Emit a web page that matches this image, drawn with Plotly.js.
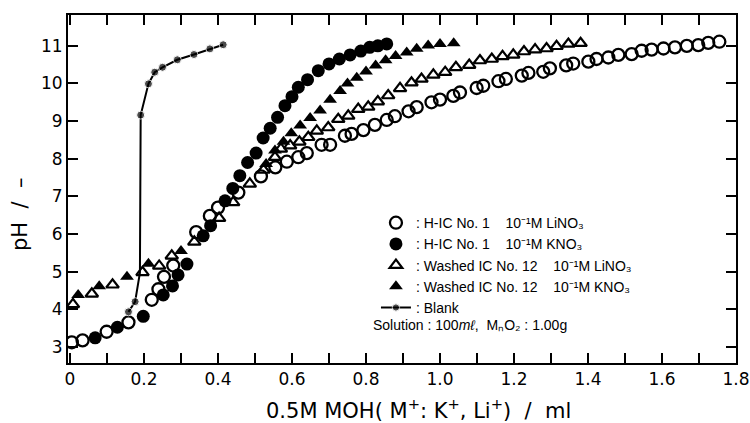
<!DOCTYPE html>
<html><head><meta charset="utf-8">
<script src="https://cdn.plot.ly/plotly-3.0.1.min.js"></script>
<style>html,body{margin:0;padding:0;background:#fff}</style>
</head><body><div id="chart" style="width:750px;height:423px"></div>
<script>
// H-IC No.1, 0.1M LiNO3 (open circles)
const hicLiX = [0.005,0.034,0.099,0.158,0.221,0.239,0.254,0.279,0.341,0.378,0.400,0.455,0.516,0.555,0.586,0.617,0.640,0.680,0.703,0.743,0.761,0.793,0.824,0.856,0.878,0.915,0.937,0.977,1.000,1.036,1.054,1.099,1.117,1.158,1.178,1.221,1.239,1.279,1.297,1.341,1.360,1.401,1.423,1.455,1.482,1.518,1.545,1.572,1.604,1.635,1.667,1.698,1.725,1.755];
const hicLiY = [3.12,3.17,3.40,3.65,4.25,4.53,4.86,5.16,6.05,6.48,6.70,7.10,7.53,7.77,7.92,8.04,8.15,8.37,8.37,8.61,8.66,8.76,8.90,9.03,9.13,9.26,9.37,9.50,9.57,9.67,9.76,9.88,9.94,10.06,10.12,10.21,10.28,10.31,10.40,10.48,10.53,10.58,10.65,10.69,10.76,10.78,10.87,10.90,10.93,10.96,11.00,11.02,11.08,11.11];
// H-IC No.1, 0.1M KNO3 (filled circles)
const hicKX = [0.068,0.128,0.198,0.252,0.277,0.292,0.316,0.360,0.380,0.419,0.440,0.459,0.480,0.503,0.522,0.541,0.561,0.581,0.600,0.617,0.642,0.671,0.700,0.728,0.757,0.786,0.810,0.832,0.856];
const hicKY = [3.24,3.52,3.81,4.38,4.62,4.91,5.20,5.95,6.22,6.88,7.21,7.55,7.90,8.15,8.55,8.81,9.10,9.41,9.65,9.90,10.10,10.34,10.52,10.65,10.76,10.86,10.96,11.00,11.05];
// Washed IC No.12, 0.1M LiNO3 (open triangles)
const wLiX = [0.008,0.059,0.115,0.196,0.241,0.275,0.336,0.403,0.441,0.486,0.523,0.554,0.570,0.595,0.620,0.644,0.667,0.698,0.725,0.752,0.779,0.806,0.832,0.860,0.892,0.923,0.950,0.982,1.014,1.043,1.079,1.108,1.140,1.169,1.198,1.227,1.257,1.288,1.315,1.347,1.380];
const wLiY = [4.13,4.41,4.65,4.98,5.15,5.42,5.79,6.42,6.84,7.33,7.70,8.04,8.26,8.35,8.45,8.57,8.74,8.83,9.05,9.14,9.32,9.38,9.52,9.68,9.87,10.02,10.12,10.23,10.30,10.43,10.49,10.61,10.65,10.72,10.76,10.85,10.90,10.93,10.99,11.05,11.07];
// Washed IC No.12, 0.1M KNO3 (filled triangles)
const wKX = [0.022,0.079,0.154,0.212,0.300,0.530,0.554,0.577,0.598,0.622,0.649,0.676,0.703,0.730,0.750,0.775,0.800,0.826,0.853,0.880,0.910,0.937,0.968,1.000,1.037];
const wKY = [4.38,4.61,4.86,5.21,5.55,7.86,8.22,8.45,8.68,8.88,9.08,9.28,9.57,9.80,10.00,10.15,10.32,10.48,10.62,10.73,10.82,10.92,11.01,11.05,11.07];
// Blank (line with small dots; 0 = line vertex only)
const blankX = [0.158,0.176,0.189,0.191,0.212,0.229,0.250,0.290,0.335,0.378,0.414];
const blankY = [3.93,4.20,4.97,9.16,9.99,10.30,10.43,10.63,10.77,10.92,11.03];
const blankDot = [1,1,0,1,1,1,1,1,1,1,1];
// Axis ticks
const xTickVals = [0,0.2,0.4,0.6,0.8,1.0,1.2,1.4,1.6,1.8];
const xTickText = ['0','0.2','0.4','0.6','0.8','1.0','1.2','1.4','1.6','1.8'];
const yTickVals = [3,4,5,6,7,8,9,10,11];
const yTickText = ['3','4','5','6','7','8','9','10','11'];
const legendNames = [
  ':\u00a0H-IC No. 1\u00a0\u00a0\u00a0\u00a010⁻¹M LiNO₃',
  ':\u00a0H-IC No. 1\u00a0\u00a0\u00a0\u00a010⁻¹M KNO₃',
  ':\u00a0Washed IC No. 12\u00a0\u00a0\u00a0\u00a010⁻¹M LiNO₃',
  ':\u00a0Washed IC No. 12\u00a0\u00a0\u00a0\u00a010⁻¹M KNO₃',
  ':\u00a0Blank'
];

const K = '#000';
const traces = [
  {x: hicLiX, y: hicLiY, mode:'markers', name: legendNames[0],
   marker:{symbol:'circle-open', size:12, color:K, line:{width:2.3, color:K}}},
  {x: hicKX, y: hicKY, mode:'markers', name: legendNames[1],
   marker:{symbol:'circle', size:13, color:K}},
  {x: wLiX, y: wLiY, mode:'markers', name: legendNames[2],
   marker:{symbol:'triangle-up-open', size:11, color:K, line:{width:2.2, color:K}}},
  {x: wKX, y: wKY, mode:'markers', name: legendNames[3],
   marker:{symbol:'triangle-up', size:12, color:K}},
  {x: blankX, y: blankY, mode:'lines+markers', name: legendNames[4],
   line:{color:K, width:2},
   marker:{color:K, size: blankDot.map(d => d ? 8 : 0)}}
];

const tickFont = {family:'DejaVu Sans, Arial, sans-serif', size:17, color:K};
const titleFont = {family:'DejaVu Sans, Arial, sans-serif', size:21, color:K};
const textFont = {family:'Liberation Sans, Arial, sans-serif', size:14, color:K};
const layout = {
  width:750, height:423,
  margin:{l:68, r:14, t:15, b:60},
  paper_bgcolor:'#fff', plot_bgcolor:'#fff',
  showlegend:true,
  legend:{x:0.461, y:0.448, xanchor:'left', yanchor:'top', bgcolor:'rgba(0,0,0,0)',
          font:textFont, itemwidth:30, traceorder:'normal'},
  xaxis:{range:[-0.0054,1.8], tickvals:xTickVals, ticktext:xTickText,
         ticks:'inside', ticklen:10, tickwidth:2, tickcolor:K,
         minor:{dtick:0.1, tick0:0, ticks:'inside', ticklen:10, tickwidth:2, tickcolor:K},
         showline:true, linewidth:2, linecolor:K, mirror:'ticks',
         showgrid:false, zeroline:false, tickfont:tickFont},
  yaxis:{range:[2.57,11.82], tickvals:yTickVals, ticktext:yTickText,
         ticks:'inside', ticklen:10, tickwidth:2, tickcolor:K,
         showline:true, linewidth:2, linecolor:K, mirror:'ticks',
         showgrid:false, zeroline:false, tickfont:tickFont},
  annotations:[
    {text:'0.5M MOH( M<sup>+</sup>: K<sup>+</sup>, Li<sup>+</sup>)\u00a0\u00a0/\u00a0\u00a0ml', xref:'paper', yref:'paper',
     x:(418-68)/668, y:(363-409)/348, xanchor:'center', yanchor:'middle', showarrow:false,
     font:titleFont},
    {text:'pH\u00a0\u00a0/\u00a0\u00a0\u2013', xref:'paper', yref:'paper', textangle:-90,
     x:(20-68)/668, y:(363-215)/348, xanchor:'center', yanchor:'middle', showarrow:false,
     font:titleFont},
    {text:'Solution\u00a0:\u00a0100<i>mℓ</i>,\u00a0\u00a0MₙO₂\u00a0:\u00a01.00g', xref:'paper', yref:'paper',
     x:(371-68)/668, y:(363-325)/348, xanchor:'left', yanchor:'middle', showarrow:false,
     font:textFont}
  ]
};
Plotly.newPlot('chart', traces, layout, {displayModeBar:false, staticPlot:true});
</script></body></html>
